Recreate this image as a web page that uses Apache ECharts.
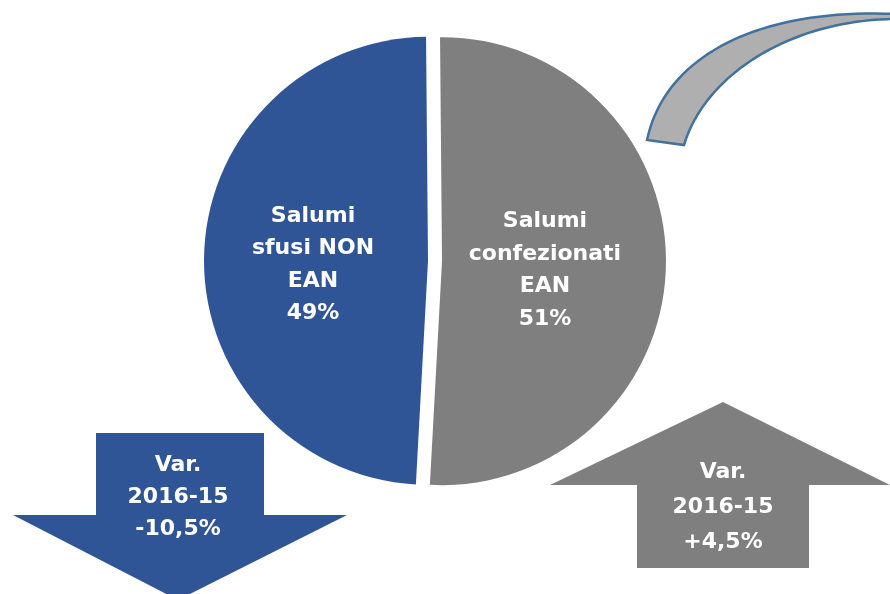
<!DOCTYPE html>
<html lang="it">
<head>
    <meta charset="UTF-8">
    <title>Salumi EAN</title>
    <script src="https://cdn.jsdelivr.net/npm/echarts@6/dist/echarts.min.js"></script>
    <style>
        html, body { margin: 0; padding: 0; background: #fff; }
        #box { width: 890px; height: 594px; }
    </style>
</head>
<body>
<div id="box"></div>
<script>
    // dati
    var categories = ['Salumi\nconfezionati\nEAN', 'Salumi\nsfusi NON\nEAN'];
    var shares = [51, 49];
    var variations = ['+4,5%', '-10,5%'];
    var colors = ['#7f7f7f', '#2f5597'];

    var font = 'DejaVu Sans';
    var myChart = echarts.init(document.getElementById('box'));

    // spostamento orizzontale etichette (padding) per allinearle al riferimento
    var labelPad = [[0, 24, 0, 0], [0, 0, 0, 0]];

    var pieData = categories.map(function (c, i) {
        return {
            name: c, value: shares[i], selected: true,
            itemStyle: { color: colors[i] },
            label: { padding: labelPad[i] }
        };
    });

    function varText(i) {
        return 'Var.\n2016-15\n' + variations[i];
    }

    // punti di una curva di bezier cubica (per la freccia curva decorativa)
    function bez(p0, p1, p2, p3, n) {
        var pts = [];
        for (var k = 0; k <= n; k++) {
            var t = k / n, u = 1 - t;
            pts.push([
                u*u*u*p0[0] + 3*u*u*t*p1[0] + 3*u*t*t*p2[0] + t*t*t*p3[0],
                u*u*u*p0[1] + 3*u*u*t*p1[1] + 3*u*t*t*p2[1] + t*t*t*p3[1]
            ]);
        }
        return pts;
    }
    var curvePts = bez([647, 140], [665, 55], [760, 8], [895, 14], 40)
        .concat(bez([895, 19], [790, 20], [705, 75], [684, 145], 40));

    var option = {
        animation: false,
        series: [{
            type: 'pie',
            center: [435, 261],
            radius: 224,
            startAngle: 90.5,
            selectedMode: 'multiple',
            selectedOffset: 7,
            silent: true,
            label: {
                show: true,
                position: 'inside',
                color: '#fff',
                fontFamily: font,
                fontWeight: 'bold',
                fontSize: 22,
                lineHeight: 32.5,
                rich: { gap: { lineHeight: 13, fontSize: 1 } },
                formatter: function (p) { return '{gap| }\n' + p.name + '\n' + p.value + '%'; }
            },
            labelLine: { show: false },
            data: pieData
        }],
        graphic: [
            // freccia curva in alto a destra
            {
                type: 'polygon',
                shape: { points: curvePts },
                style: { fill: '#afafaf', stroke: '#41719c', lineWidth: 2.5 }
            },
            // freccia giù (blu)
            {
                type: 'polygon',
                shape: { points: [[96, 433], [264, 433], [264, 515], [347, 515], [178, 600], [13, 515], [96, 515]] },
                style: { fill: colors[1] }
            },
            {
                type: 'text',
                x: 178, y: 497,
                style: {
                    text: varText(1), fill: '#fff', font: 'bold 22px "' + font + '"',
                    align: 'center', verticalAlign: 'middle', lineHeight: 32
                }
            },
            // freccia su (grigia)
            {
                type: 'polygon',
                shape: { points: [[723, 402], [890, 485], [809, 485], [809, 568], [637, 568], [637, 485], [550, 485]] },
                style: { fill: colors[0] }
            },
            {
                type: 'text',
                x: 723, y: 507,
                style: {
                    text: varText(0), fill: '#fff', font: 'bold 22px "' + font + '"',
                    align: 'center', verticalAlign: 'middle', lineHeight: 35
                }
            }
        ]
    };

    myChart.setOption(option);
    window.addEventListener('resize', myChart.resize);
</script>
</body>
</html>
